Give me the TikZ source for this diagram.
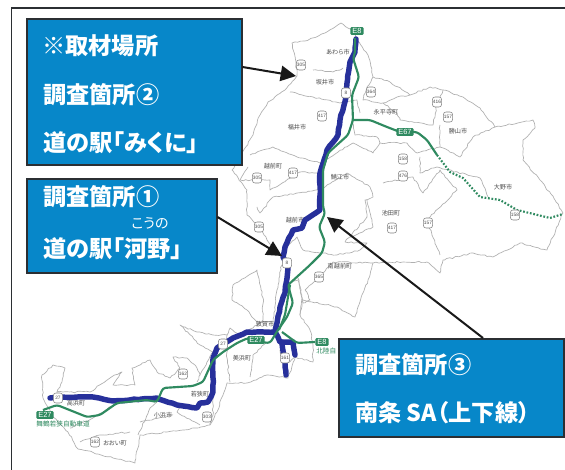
\documentclass[tikz,border=0pt]{standalone}
\usepackage{fontspec}
\setmainfont{Liberation Sans}
\newfontfamily\jp[RawFeature=+palt]{Noto Sans CJK JP}
\usetikzlibrary{arrows.meta,decorations.pathmorphing}
\definecolor{boxblue}{HTML}{0787C9}
\definecolor{boxedge}{HTML}{2B2F33}
\definecolor{routeblue}{HTML}{27309B}
\definecolor{routegreen}{HTML}{2F8A60}
\definecolor{bound}{HTML}{B0B0B0}
\tikzset{
  border/.style={draw=bound,line width=.5pt,line join=round,decorate,decoration={random steps,segment length=2.2pt,amplitude=.55pt}},
  blueroad/.style={draw=routeblue,line width=4.1pt,line join=round,line cap=round,decorate,decoration={random steps,segment length=3.5pt,amplitude=.35pt}},
  greenroad/.style={draw=routegreen,line width=1.6pt,line join=round,rounded corners=2pt},
  greendots/.style={draw=routegreen,line width=1.6pt,dash pattern=on 1.3pt off 1.3pt},
  infobox/.style={draw=boxedge,fill=boxblue,line width=1.5pt,anchor=north west,inner sep=0pt},
  boxtext/.style={text=white,anchor=west,inner sep=0pt,font=\jp\bfseries\fontsize{17.4}{18}\selectfont},
  pointer/.style={draw=black!90,line width=1.5pt,-{Triangle[length=11.5pt,width=11.5pt]}},
  placename/.style={text=black!70,inner sep=0pt,font=\jp\fontsize{4.6}{5}\selectfont},
  shield/.style={draw=black!50,fill=white,line width=.4pt,rounded corners=2pt,minimum width=7pt,minimum height=7.5pt,inner sep=0pt,text=black!70,font=\fontsize{3.6}{4}\selectfont},
  ebadge/.style={fill=routegreen,rounded corners=.8pt,inner xsep=1.5pt,inner ysep=.9pt,text=white,font=\fontsize{5.6}{6}\selectfont},
  roadname/.style={text=routegreen,inner sep=0pt,font=\jp\fontsize{5}{6}\selectfont},
  frameline/.style={draw=boxedge,line width=1.3pt}
}
\begin{document}
\begin{tikzpicture}[x=0.75pt,y=-0.75pt]
\pgfmathsetseed{7}
\useasboundingbox (0,0) rectangle (565,470);
\clip (0,0) rectangle (565,470);
\fill[white] (0,0) rectangle (565,470);
% frame
\draw[frameline] (11.5,470) -- (11.5,8) -- (565,8);
% outer boundary
\path[border] (341,23) -- (355,33) -- (357,40) -- (368,55) -- (373,77) -- (390,82) -- (410,95) -- (430,87) -- (443,90) -- (463,97) -- (480,108) -- (495,127) -- (533,120) -- (535,128) -- (523,140) -- (523,160) -- (540,180) -- (555,200) -- (563,213) -- (560,220) -- (553,237) -- (547,250) -- (520,243) -- (493,257) -- (473,253) -- (443,260) -- (440,273) -- (427,262) -- (403,262) -- (373,263) -- (368,280) -- (358,307) -- (355,317) -- (337,307) -- (303,300) -- (300,315) -- (310,330) -- (313,345) -- (313,362) -- (295,357) -- (288,378) -- (267,375) -- (247,383) -- (227,383) -- (217,412) -- (210,425) -- (197,428) -- (167,432) -- (140,435) -- (135,463) -- (113,458) -- (77,448) -- (68,432) -- (53,417) -- (43,398) -- (42,375) -- (53,365) -- (65,368) -- (62,382) -- (57,392) -- (90,392) -- (110,378) -- (122,372) -- (113,385) -- (135,385) -- (132,368) -- (150,360) -- (157,372) -- (170,378) -- (180,368) -- (173,357) -- (187,358) -- (197,368) -- (200,375) -- (213,352) -- (200,345) -- (180,325) -- (197,332) -- (213,335) -- (227,335) -- (230,328) -- (240,335) -- (253,328) -- (263,320) -- (263,298) -- (257,270) -- (233,285) -- (232,300) -- (247,310) -- (257,322) -- (273,322) -- (277,290) -- (283,258) -- (267,240) -- (258,225) -- (247,215) -- (247,190) -- (232,170) -- (240,157) -- (253,135) -- (260,115) -- (268,102) -- (285,90) -- (297,76) -- (296,62) -- (292,43) -- (305,41) -- (325,33) -- cycle;
% inner boundaries
\foreach \p in {
 {(313,70)--(333,72)--(343,68)},
 {(290,92)--(313,97)--(340,103)--(357,100)--(360,113)},
 {(373,77)--(367,87)--(363,100)--(383,103)--(397,97)--(410,95)},
 {(383,103)--(397,113)--(400,120)--(433,125)--(437,103)--(443,90)},
 {(440,125)--(440,147)--(460,157)--(473,137)--(495,127)},
 {(250,155)--(273,147)--(297,157)--(320,163)--(353,143)--(373,153)--(380,143)--(407,143)--(417,153)--(440,147)},
 {(353,120)--(355,135)--(377,137)--(380,143)},
 {(248,167)--(240,180)--(270,180)--(270,190)--(300,172)--(320,173)},
 {(257,207)--(260,213)--(273,197)--(297,193)--(320,190)--(347,173)--(370,187)--(373,197)--(365,200)--(367,217)},
 {(383,183)--(413,177)--(423,193)--(440,170)--(457,190)--(427,220)--(432,235)},
 {(420,157)--(420,173)--(437,167)--(480,178)--(488,197)},
 {(367,200)--(373,227)--(350,237)},
 {(345,242)--(367,243)--(360,250)--(337,255)--(323,253)--(303,250)--(297,237)--(285,247)},
 {(323,273)--(333,262)--(373,263)},
 {(305,290)--(323,273)},
 {(305,290)--(310,300)--(303,303)--(298,280)--(290,283)},
 {(227,335)--(227,358)--(230,382)},
 {(267,342)--(253,355)--(250,377)},
 {(213,398)--(213,415)--(210,425)},
 {(182,405)--(177,412)--(200,425)},
 {(157,402)--(150,408)--(138,435)},
 {(140,422)--(173,415)},
 {(117,403)--(93,418)--(70,428)},
 {(130,432)--(100,435)--(80,442)},
 {(298,278)--(302,298)--(300,315)},
 {(280,350)--(285,365)--(295,357)},
 {(197,382)--(200,375)},
 {(432,235)--(440,255)},
 {(345,242)--(367,217)}
}{\path[border] \p;}
% place names
\foreach \x/\y/\t [count=\i] in {338/52/あわら市,325/82/坂井市,297/127/福井市,386/112/永平寺町,458/131/勝山市,503/187/大野市,273/166/越前町,340/177/鯖江市,295/220/越前市,391/213/池田町,340/266/南越前町,265/324/敦賀市,200/394/若狭町,242/358/美浜町,163/415/小浜市,76/403/高浜町,115/443/おおい町}
  {\node[placename] (pl\i) at (\x,\y) {\t};}
\node[roadname] (rn1) at (63,424) {舞鶴若狭自動車道};
\node[roadname,anchor=west] (rn2) at (316,351) {北陸自};
% blue roads
\path[blueroad] (356,39) -- (355,52) -- (350,62) -- (347,83) -- (346,97) -- (340,120) -- (338,135) -- (327,150) -- (320,173) -- (320,210) -- (305,220) -- (302,228) -- (293,230) -- (285,247) -- (283,257) -- (288,268) -- (285,293) -- (280,307) -- (277,323) -- (275,332) -- (247,332) -- (233,338) -- (217,348) -- (213,358) -- (213,392) -- (208,402) -- (200,403) -- (197,408) -- (177,405) -- (157,398) -- (113,401) -- (93,397) -- (60,397) -- (50,398);
\path[blueroad] (275,332) -- (280,342) -- (293,342) -- (295,355);
\path[blueroad] (282,342) -- (285,362) -- (286,375);
% green roads
\path[greenroad] (355,38) -- (355,53) -- (353,58) -- (359,77) -- (352,95) -- (353,120) -- (348,135) -- (328,153) -- (323,170) -- (323,207) -- (325,213) -- (319,227) -- (325,242) -- (322,253) -- (310,265) -- (288,285) -- (293,303) -- (287,317) -- (278,330) -- (270,343) -- (260,342) -- (248,338) -- (237,343) -- (223,352) -- (213,360) -- (203,382) -- (193,386) -- (163,388) -- (157,402) -- (147,400) -- (117,403) -- (100,415) -- (87,417) -- (57,405) -- (43,410);
\path[greenroad] (290,285) -- (285,315) -- (279,330);
\path[greenroad] (282,332) -- (297,343) -- (315,342);
\path[greenroad] (353,120) -- (370,120) -- (387,127) -- (400,132) -- (417,132) -- (427,140) -- (437,155);
\path[greendots] (437,155) -- (450,172) -- (463,178) -- (480,197) -- (500,200) -- (517,210) -- (550,218) -- (563,214);
% shields
\foreach \x/\y/\t [count=\i] in {301/65/305,346/93/8,371/92/364,437/102/416,322/116/417,448/117/157,403/159/158,403/176/476,293/173/417,257/178/305,259/227/305,392/228/417,428/223/157,515/215/158,319/277/365,287/263/8,223/344/27,58/398/27,207/417/303,183/374/162,95/442/162,285/358/161}
  {\node[shield] (sh\i) at (\x,\y) {\t};}
% expressway badges
\node[ebadge] (e1) at (357,31) {E8};
\node[ebadge] (e2) at (405,132) {E67};
\node[ebadge] (e3) at (256,340) {E27};
\node[ebadge] (e4) at (45,415) {E27};
\node[ebadge] (e5) at (322,342) {E8};
% info boxes
\node[infobox,minimum width=161.25pt,minimum height=109.5pt] (box1) at (25.5,18) {};
\node[infobox,minimum width=142.5pt,minimum height=70.5pt] (box2) at (25.5,178) {};
\node[infobox,minimum width=168.75pt,minimum height=73.5pt] (box3) at (338,338) {};
% pointers
\coordinate (t1) at (296,76);
\coordinate (t2) at (282,256);
\coordinate (t3) at (327,217);
\draw[pointer] (box1.east |- 0,67) -- (t1);
\draw[pointer] (box2.east |- 0,217) -- (t2);
\draw[pointer] (483,338) -- (t3);
% texts
\node[boxtext] (a1) at (42,46) {※取材場所};
\node[boxtext] (a2) at (43,95) {調査箇所②};
\node[boxtext] (a3) at (43,143) {道の駅「みくに」};
\node[boxtext] (b1) at (43,197) {調査箇所①};
\node[text=white,inner sep=0pt,font=\jp\fontsize{10.5}{11}\selectfont] (b2) at (150,223) {こうの};
\node[boxtext] (b3) at (43,249) {道の駅「河野」};
\node[boxtext] (c1) at (355,365) {調査箇所③};
\node[boxtext] (c2) at (355,413) {南条 SA（上下線）};
\end{tikzpicture}
\end{document}
